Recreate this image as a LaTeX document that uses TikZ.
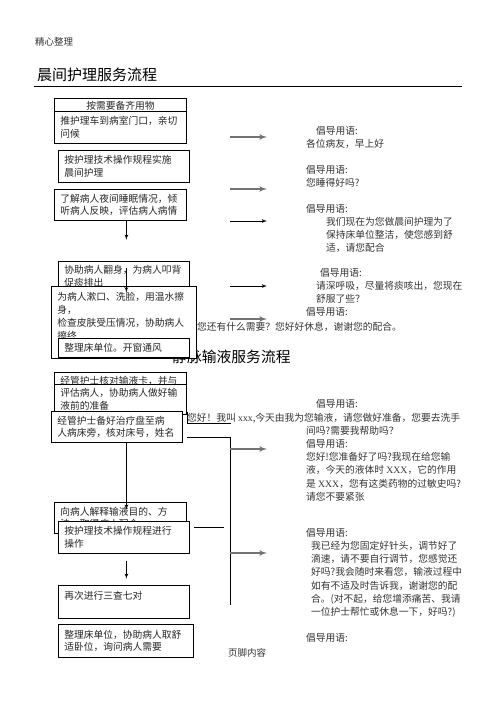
\documentclass[tikz,border=0pt]{standalone}
\usepackage{fontspec}
\setmainfont{Noto Sans CJK SC}
\newfontfamily\latinserif{Liberation Serif}
\usepackage{tikz}
\usetikzlibrary{arrows}
\tikzset{>=latex'}
\tikzset{
  stepbox/.style={draw,fill=white,anchor=north west,align=left,inner xsep=6pt,inner ysep=0pt,line width=0.8pt,text=black!85,font=\fontsize{9.75}{12.8}\selectfont},
  hint/.style={anchor=north west,inner sep=0pt,align=left,text=black!80,font=\fontsize{9.75}{13.2}\selectfont},
  flow/.style={->,line width=0.8pt},
  grayflow/.style={->,line width=1.6pt,black!55},
}

\begin{document}
\begin{tikzpicture}[x=1pt,y=-1pt]
	\useasboundingbox (0,0) rectangle (496,702);
	\node[anchor=west,inner sep=0pt,text=black!80,font=\fontsize{9.5}{11}\selectfont] (header) at (35,42) {精心整理};
	\node[anchor=west,inner sep=0pt,font=\fontsize{15}{17}\selectfont] (title morning) at (37,75) {晨间护理服务流程};
	\draw[line width=0.8pt] (34,86) -- (462,86);
	% morning flow
	\node[stepbox,text width=120pt,minimum height=14pt,align=center] (prepare) at (54,98) {按需要备齐用物};
	\node[stepbox,text width=120pt,minimum height=32pt] (cart) at (54,111) {推护理车到病室门口，亲切\\问候};
	\node[stepbox,text width=119pt,minimum height=32pt] (routine) at (58,150) {按护理技术操作规程实施\\晨间护理};
	\node[stepbox,text width=120pt,minimum height=31pt] (assess) at (54,189) {了解病人夜间睡眠情况，倾\\听病人反映，评估病人病情};
	\draw[flow] (assess.south) ++(6,0) -- ++(0,19);
	\node[anchor=west,inner sep=0pt,text=black!80,font=\fontsize{9.75}{12}\selectfont] (thanks) at (197,327) {您还有什么需要？您好好休息，谢谢您的配合。};
	\node[anchor=west,inner sep=0pt,font=\fontsize{14.8}{17}\selectfont] (title infusion) at (172,357) {静脉输液服务流程};
	\node[stepbox,text width=119pt,minimum height=30pt] (turn) at (58,261) {协助病人翻身，为病人叩背\\促痰排出};
	\node[stepbox,text width=133pt,minimum height=72pt] (wash) at (51,286) {为病人漱口、洗脸，用温水擦\\身，\\检查皮肤受压情况，协助病人\\擦终\\\mbox{}};
	\node[stepbox,text width=119pt,minimum height=19pt] (tidy) at (58,338) {整理床单位。开窗通风};
	\draw[flow] (turn.center) ++(2.5,-8) -- ++(0,24);
	% morning hints
	\draw[grayflow] (230,137) -- (267,137);
	\draw[grayflow] (230,189) -- (267,189);
	\draw[flow] (230,221) -- (267,221);
	\draw[flow] (230,286) -- (267,286);
	\draw[grayflow] (230,319) -- (267,319);
	\node[hint] (hint greet) at (306,126) {\hspace*{10pt}倡导用语:\\各位病友，早上好};
	\node[hint] (hint sleep) at (306,165) {倡导用语:\\您睡得好吗?};
	\node[hint] (hint care) at (306,204) {倡导用语:\\\hspace*{20pt}我们现在为您做晨间护理为了\\\hspace*{20pt}保持床单位整洁，使您感到舒\\\hspace*{20pt}适，请您配合};
	\node[hint] (hint breath) at (316,268) {\hspace*{4pt}倡导用语:\\请深呼吸，尽量将痰咳出，您现在\\舒服了些？};
	\node[hint] (hint rest) at (306,307) {倡导用语:};
	% infusion flow
	\node[stepbox,text width=120pt,minimum height=18pt] (check) at (54,372) {经管护士核对输液卡，并与};
	\node[stepbox,text width=120pt,minimum height=30pt] (evaluate) at (54,384) {评估病人，协助病人做好输\\液前的准备};
	\node[stepbox,text width=119pt,minimum height=31pt] (tray) at (51,411) {经管护士备好治疗盘至病\\人病床旁，核对床号，姓名};
	\draw[line width=0.6pt] (tray.north east) ++(4,1) -- ++(0,11) -- ++(44,0);
	\draw[line width=0.8pt] (tray.south east) ++(4,-5) -- ++(44,0) coordinate (bus) -- ++(0,167);
	\node[stepbox,text width=120pt,minimum height=31pt] (explain) at (54,502) {向病人解释输液目的、方\\法，取得病人配合};
	\draw[flow] (tray.south) ++(9.5,0) -- ++(0,67);
	\node[stepbox,text width=119pt,minimum height=32pt] (operate) at (58,521) {按护理技术操作规程进行\\操作};
	\draw[line width=0.8pt] (operate.north east) ++(4,6) -- ++(30,0);
	\draw[flow] (operate.south) ++(2.5,7) -- ++(0,18);
	\node[stepbox,text width=119pt,minimum height=33pt] (recheck) at (58,585) {再次进行三查七对\\\mbox{}};
	\node[stepbox,text width=123pt,minimum height=33pt] (settle) at (58,624) {整理床单位，协助病人取舒\\适卧位，询问病人需要};
	% infusion hints
	\draw[grayflow] (230,449) -- (267,449);
	\draw[grayflow] (230,553) -- (267,553);
	\node[hint] (hint intro) at (316,399) {倡导用语:};
	\node[hint] (intro) at (187,413) {您好！我叫 {\latinserif xxx},今天由我为您输液，请您做好准备，您要去洗手};
	\node[hint] (hint drug) at (306,426) {间吗?需要我帮助吗？\\倡导用语:\\您好!您准备好了吗?我现在给您输\\液，今天的液体时 {\latinserif XXX}，它的作用\\是 {\latinserif XXX}，您有这类药物的过敏史吗?\\请您不要紧张};
	\node[hint] (hint drip) at (306,528) {倡导用语:\\\hspace*{5pt}我已经为您固定好针头，调节好了\\\hspace*{5pt}滴速，请不要自行调节，您感觉还\\\hspace*{5pt}好吗?我会随时来看您，输液过程中\\\hspace*{5pt}如有不适及时告诉我，谢谢您的配\\\hspace*{5pt}合。(对不起，给您增添痛苦、我请\\\hspace*{5pt}一位护士帮忙或休息一下，好吗?)};
	\node[hint] (hint end) at (306,633) {倡导用语:};
	\node[anchor=west,inner sep=0pt,text=black!80,font=\fontsize{9.5}{11}\selectfont] (footer) at (228,653) {页脚内容};
\end{tikzpicture}
\end{document}
